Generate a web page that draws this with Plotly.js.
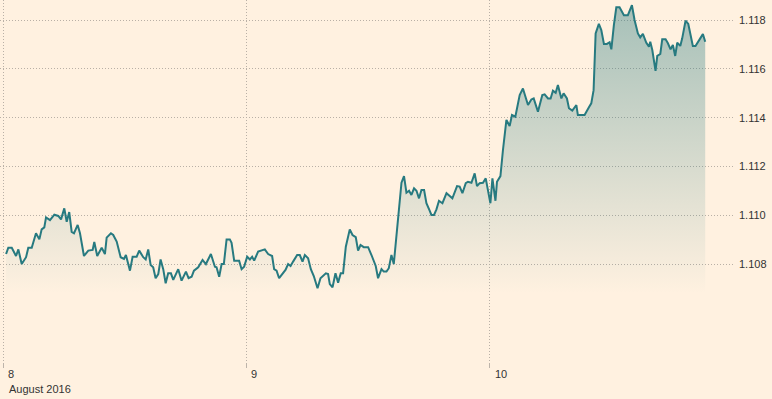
<!DOCTYPE html>
<html>
<head>
<meta charset="utf-8">
<script src="https://cdn.plot.ly/plotly-3.0.1.min.js"></script>
<style>
  html, body { margin: 0; padding: 0; background: #FFF1E0; }
  #chart { width: 772px; height: 399px; }
</style>
</head>
<body>
<div id="chart"></div>
<script>
// Hours since 8 August 2016 00:00
const hours = [
  0.30,0.52,0.86,1.28,1.51,1.84,2.27,2.49,2.83,3.25,3.58,3.81,4.07,4.24,4.63,5.06,5.45,5.72,6.04,6.28,
  6.53,6.77,7.00,7.36,7.59,7.98,8.41,8.84,9.00,9.29,9.73,10.05,10.22,10.64,10.87,11.21,11.60,11.93,12.12,12.52,
  12.78,13.18,13.43,13.83,14.07,14.32,14.56,14.81,15.05,15.31,15.54,15.80,16.04,16.29,16.56,16.79,17.28,17.61,18.04,18.30,
  18.60,18.83,19.25,19.68,20.01,20.24,20.50,20.90,21.06,21.32,21.56,21.78,22.05,22.37,22.54,22.80,23.29,23.53,23.78,24.08,
  24.35,24.57,24.77,25.16,25.50,25.82,26.15,26.54,26.74,26.98,27.23,27.63,27.86,28.12,28.36,28.61,29.01,29.27,29.54,29.77,
  30.09,30.36,30.65,31.02,31.31,31.84,32.06,32.23,32.50,32.79,33.05,33.31,33.54,33.81,34.20,34.47,34.79,35.02,35.26,35.58,
  36.01,36.34,36.76,36.99,37.33,37.55,37.82,38.05,38.31,38.54,38.80,39.06,39.30,39.55,39.79,40.05,40.28,40.54,40.78,41.03,
  41.27,41.53,41.76,42.09,42.25,42.51,42.75,43.00,43.34,43.74,44.06,44.32,44.78,45.04,45.31,45.64,45.86,46.20,46.52,46.75,
  47.01,47.34,47.61,47.83,48.07,48.27,48.57,48.72,49.06,49.31,49.65,49.97,50.20,50.53,50.96,51.28,51.78,52.11,52.34,52.76,
  53.19,53.42,53.75,54.01,54.24,54.51,54.73,55.07,55.29,55.62,55.82,56.15,56.55,56.70,57.36,57.79,58.02,58.25,58.45,58.77,
  59.01,59.27,59.56,59.83,60.00,60.25,60.49,60.81,61.24,61.63,62.03,62.29,62.62,62.85,63.11,63.45,63.71,63.84,64.04,64.36,
  64.53,64.83,65.02,65.35,65.58,65.84,66.07,66.30,66.50,66.80,66.99,67.32,67.59,68.04,68.30,68.77,69.03,69.26
];
// EUR/USD rate
const rate = [
  1.10842,1.10868,1.10868,1.10834,1.10861,1.10801,1.10829,1.10868,1.10868,1.10927,1.10902,1.10943,1.10951,1.10992,1.10981,1.11003,1.10998,1.10984,1.11029,1.10974,
  1.11014,1.10933,1.10927,1.10961,1.10927,1.10834,1.10856,1.10859,1.10891,1.10834,1.10868,1.10842,1.10909,1.10927,1.10920,1.10893,1.10829,1.10822,1.10838,1.10774,
  1.10831,1.10831,1.10856,1.10829,1.10820,1.10861,1.10797,1.10788,1.10743,1.10760,1.10820,1.10780,1.10722,1.10763,1.10763,1.10736,1.10780,1.10733,1.10770,1.10743,
  1.10749,1.10774,1.10788,1.10818,1.10801,1.10818,1.10842,1.10790,1.10788,1.10749,1.10801,1.10801,1.10902,1.10902,1.10888,1.10814,1.10814,1.10780,1.10790,1.10831,
  1.10820,1.10831,1.10815,1.10852,1.10856,1.10861,1.10842,1.10834,1.10780,1.10774,1.10743,1.10766,1.10777,1.10801,1.10793,1.10811,1.10838,1.10838,1.10811,1.10838,
  1.10825,1.10780,1.10752,1.10702,1.10743,1.10763,1.10760,1.10719,1.10706,1.10763,1.10725,1.10763,1.10763,1.10872,1.10943,1.10920,1.10911,1.10856,1.10879,1.10870,
  1.10870,1.10838,1.10793,1.10743,1.10780,1.10770,1.10770,1.10784,1.10838,1.10801,1.10913,1.11022,1.11134,1.11161,1.11093,1.11101,1.11084,1.11111,1.11101,1.11070,
  1.11104,1.11104,1.11050,1.11019,1.11002,1.11002,1.11025,1.11060,1.11050,1.11091,1.11080,1.11070,1.11120,1.11118,1.11091,1.11132,1.11138,1.11134,1.11172,1.11120,
  1.11132,1.11134,1.11152,1.11097,1.11050,1.11152,1.11060,1.11138,1.11161,1.11268,1.11391,1.11366,1.11411,1.11404,1.11493,1.11520,1.11452,1.11475,1.11479,1.11425,
  1.11493,1.11496,1.11479,1.11479,1.11511,1.11502,1.11534,1.11479,1.11500,1.11479,1.11439,1.11429,1.11452,1.11411,1.11411,1.11443,1.11459,1.11513,1.11745,1.11784,
  1.11759,1.11702,1.11702,1.11709,1.11680,1.11779,1.11852,1.11852,1.11820,1.11820,1.11861,1.11800,1.11745,1.11729,1.11743,1.11707,1.11691,1.11711,1.11677,1.11592,
  1.11653,1.11661,1.11721,1.11721,1.11705,1.11680,1.11698,1.11653,1.11707,1.11694,1.11725,1.11797,1.11784,1.11694,1.11694,1.11725,1.11743,1.11711
];
const xTickVals = [0, 24, 48];
const xTickText = ['8', '9', '10'];
const periodLabel = 'August 2016';
const yTickVals = [1.108, 1.110, 1.112, 1.114, 1.116, 1.118];
const yTickText = ['1.108', '1.110', '1.112', '1.114', '1.116', '1.118'];

const bg = '#FFF1E0';
const lineColor = '#277a80';
const textColor = '#333333';
const gridColor = '#b9b0a6';
const fontFamily = 'Liberation Sans, Arial, sans-serif';

const trace = {
  x: hours,
  y: rate,
  type: 'scatter',
  mode: 'lines',
  line: { color: lineColor, width: 2 },
  fill: 'tozeroy',
  fillgradient: {
    type: 'vertical',
    start: 1.1068,
    stop: 1.1188,
    colorscale: [[0, 'rgba(39,122,128,0)'], [1, 'rgba(39,122,128,0.42)']]
  },
  hoverinfo: 'skip'
};

const annotations = xTickVals.map((v, i) => ({
  x: v, xref: 'x', y: 0, yref: 'paper',
  text: xTickText[i], showarrow: false,
  xanchor: 'left', yanchor: 'top', xshift: 3, yshift: -4,
  font: { family: fontFamily, size: 11, color: textColor }
}));
annotations.push({
  x: xTickVals[0], xref: 'x', y: 0, yref: 'paper',
  text: periodLabel, showarrow: false,
  xanchor: 'left', yanchor: 'top', xshift: 4, yshift: -19,
  font: { family: fontFamily, size: 11, color: textColor }
});

const layout = {
  width: 772, height: 399,
  margin: { l: 0, r: 39, t: 0, b: 37 },
  paper_bgcolor: bg, plot_bgcolor: bg,
  showlegend: false,
  font: { family: fontFamily, size: 11, color: textColor },
  xaxis: {
    range: [-0.3, 72],
    tickvals: xTickVals,
    ticktext: ['', '', ''],
    showgrid: true, gridcolor: gridColor, griddash: '1px,2px', gridwidth: 1,
    zeroline: false, showline: false,
    ticks: 'outside', ticklen: 5, tickcolor: '#bdb4aa', tickwidth: 1,
    automargin: false, fixedrange: true
  },
  yaxis: {
    side: 'right',
    range: [1.104, 1.11882],
    tickvals: yTickVals, ticktext: yTickText,
    showgrid: true, gridcolor: gridColor, griddash: '1px,2px', gridwidth: 1,
    zeroline: false, showline: false,
    ticks: '', ticklabelstandoff: 5,
    automargin: false, fixedrange: true
  },
  annotations: annotations
};

Plotly.newPlot('chart', [trace], layout, { displayModeBar: false, staticPlot: true });
</script>
</body>
</html>
